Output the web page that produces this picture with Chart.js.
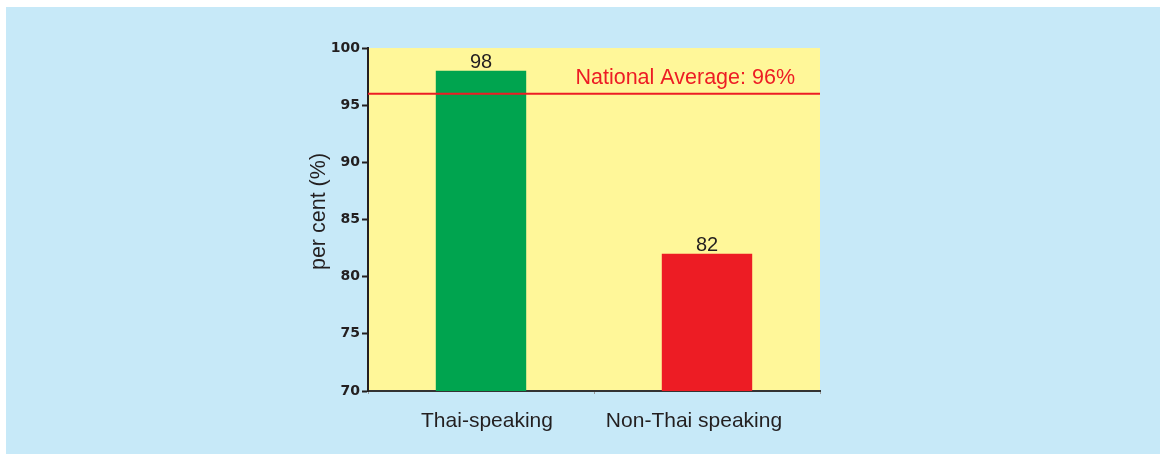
<!DOCTYPE html>
<html>
<head>
<meta charset="utf-8">
<script src="https://cdn.jsdelivr.net/npm/chart.js@4/dist/chart.umd.min.js"></script>
<style>
    html, body { margin: 0; padding: 0; background: #ffffff; }
    #panel {
        position: absolute;
        left: 6px;
        top: 7px;
        width: 1154px;
        height: 447px;
        background: #c7e9f8;
    }
</style>
</head>
<body>
<div id="panel"><canvas id="chart" width="1154" height="447"></canvas></div>
<script>
var categories = ['Thai-speaking', 'Non-Thai speaking'];
var values = [98, 82];
var barColors = ['#00a44f', '#ed1c24'];
var nationalAverage = 96;
var averageLabel = 'National Average: 96%';
var yTitle = 'per cent (%)';
var yMin = 70;
var yMax = 100;
var yStep = 5;

var textColor = '#231f20';
var fontFamily = '"Liberation Sans", Arial, sans-serif';
// the original labels sit slightly off the bar centres
var labelShift = [6, -13];

// yellow plot background
var plotBackground = {
    id: 'plotBackground',
    beforeDraw: function (chart) {
        var a = chart.chartArea;
        var ctx = chart.ctx;
        ctx.save();
        ctx.fillStyle = '#fff799';
        ctx.fillRect(a.left, a.top, a.right - a.left, a.bottom - a.top);
        ctx.restore();
    }
};

// national average line and its label
var averageLine = {
    id: 'averageLine',
    afterDatasetsDraw: function (chart) {
        var a = chart.chartArea;
        var ctx = chart.ctx;
        var y = chart.scales.y.getPixelForValue(nationalAverage);
        ctx.save();
        ctx.strokeStyle = '#ed1c24';
        ctx.lineWidth = 2;
        ctx.beginPath();
        ctx.moveTo(a.left, y);
        ctx.lineTo(a.right, y);
        ctx.stroke();
        ctx.fillStyle = '#ed1c24';
        ctx.font = '21.5px ' + fontFamily;
        ctx.textAlign = 'right';
        ctx.textBaseline = 'alphabetic';
        ctx.fillText(averageLabel, a.right - 25, y - 10);
        ctx.restore();
    }
};

// value labels above bars
var valueLabels = {
    id: 'valueLabels',
    afterDatasetsDraw: function (chart) {
        var ctx = chart.ctx;
        var meta = chart.getDatasetMeta(0);
        ctx.save();
        ctx.fillStyle = textColor;
        ctx.font = '20px ' + fontFamily;
        ctx.textAlign = 'center';
        ctx.textBaseline = 'alphabetic';
        meta.data.forEach(function (bar, i) {
            ctx.fillText(String(values[i]), bar.x, bar.y - 3);
        });
        ctx.restore();
    }
};

// category labels under the x axis
var categoryLabels = {
    id: 'categoryLabels',
    afterDraw: function (chart) {
        var a = chart.chartArea;
        var ctx = chart.ctx;
        var x = chart.scales.x;
        ctx.save();
        ctx.fillStyle = textColor;
        ctx.font = '21px ' + fontFamily;
        ctx.textAlign = 'center';
        ctx.textBaseline = 'alphabetic';
        categories.forEach(function (label, i) {
            ctx.fillText(label, x.getPixelForValue(i) + labelShift[i], a.bottom + 36);
        });
        ctx.restore();
    }
};

// rotated y axis title, sits a little above the middle like the original
var yAxisTitle = {
    id: 'yAxisTitle',
    afterDraw: function (chart) {
        var a = chart.chartArea;
        var ctx = chart.ctx;
        ctx.save();
        ctx.translate(a.left - 49, (a.top + a.bottom) / 2 - 8);
        ctx.rotate(-Math.PI / 2);
        ctx.fillStyle = textColor;
        ctx.font = '21.5px ' + fontFamily;
        ctx.textAlign = 'center';
        ctx.textBaseline = 'middle';
        ctx.fillText(yTitle, 0, 0);
        ctx.restore();
    }
};

new Chart(document.getElementById('chart').getContext('2d'), {
    type: 'bar',
    data: {
        labels: categories,
        datasets: [{
            data: values,
            backgroundColor: barColors,
            borderWidth: 0,
            categoryPercentage: 1,
            barPercentage: 0.4
        }]
    },
    options: {
        responsive: false,
        animation: false,
        layout: {
            padding: { left: 312, right: 340, top: 41, bottom: 13 }
        },
        plugins: {
            legend: { display: false },
            tooltip: { enabled: false }
        },
        scales: {
            x: {
                grid: {
                    drawOnChartArea: false,
                    tickLength: 3,
                    tickColor: '#9a9a9a',
                    offset: true
                },
                border: { color: '#333333', width: 2 },
                ticks: { display: false },
                afterFit: function (scale) { scale.height = 50; }
            },
            y: {
                min: yMin,
                max: yMax,
                grid: {
                    drawOnChartArea: false,
                    tickLength: 6,
                    tickColor: textColor,
                    tickWidth: 2
                },
                border: { color: textColor, width: 2 },
                ticks: {
                    stepSize: yStep,
                    color: textColor,
                    padding: 2,
                    font: { family: '"DejaVu Sans", sans-serif', size: 14, weight: 'bold' }
                },
                afterFit: function (scale) { scale.width = 50; }
            }
        }
    },
    plugins: [plotBackground, averageLine, valueLabels, categoryLabels, yAxisTitle]
});
</script>
</body>
</html>
